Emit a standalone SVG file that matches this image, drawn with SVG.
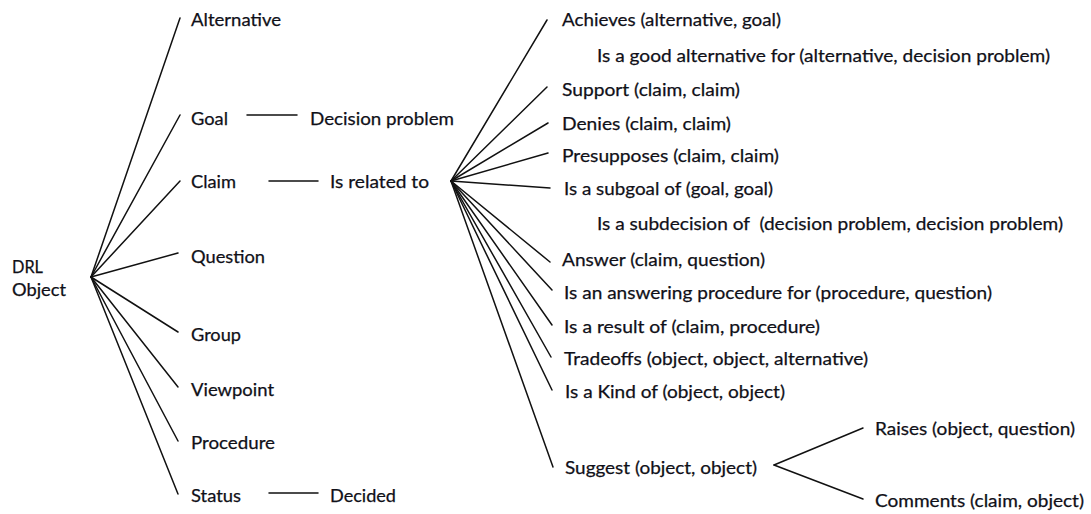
<svg xmlns="http://www.w3.org/2000/svg" width="1091" height="514" viewBox="0 0 1091 514">
  <style>
    text { font-family: Lato, "Liberation Sans", sans-serif; font-size: 18px; fill: #101018; stroke: #101018; stroke-width: 0.25; }
    .edge { stroke: #111; stroke-width: 1.5; fill: none; stroke-linecap: round; }
  </style>
  <rect width="1091" height="514" fill="#fff"/>

  <!-- connectors -->
  <g id="connectors">
    <!-- DRL Object fan -->
    <line class="edge" x1="91" y1="277" x2="180" y2="18"/>
    <line class="edge" x1="91" y1="277" x2="180" y2="115"/>
    <line class="edge" x1="91" y1="277" x2="180" y2="181"/>
    <line class="edge" x1="91" y1="277" x2="178" y2="253"/>
    <line class="edge" x1="91" y1="277" x2="178" y2="332"/>
    <line class="edge" x1="91" y1="277" x2="178" y2="387"/>
    <line class="edge" x1="91" y1="277" x2="178" y2="441"/>
    <line class="edge" x1="91" y1="277" x2="178" y2="494"/>
    <!-- short links -->
    <line class="edge" x1="247" y1="115" x2="297" y2="115"/>
    <line class="edge" x1="269" y1="181" x2="318" y2="181"/>
    <line class="edge" x1="269" y1="493" x2="318" y2="493"/>
    <!-- Is related to fan -->
    <line class="edge" x1="451" y1="181" x2="547" y2="20"/>
    <line class="edge" x1="451" y1="181" x2="547" y2="87"/>
    <line class="edge" x1="451" y1="181" x2="548" y2="123"/>
    <line class="edge" x1="451" y1="181" x2="548" y2="153"/>
    <line class="edge" x1="451" y1="181" x2="550" y2="188"/>
    <line class="edge" x1="451" y1="181" x2="550" y2="262"/>
    <line class="edge" x1="451" y1="181" x2="552" y2="290"/>
    <line class="edge" x1="451" y1="181" x2="552" y2="325"/>
    <line class="edge" x1="451" y1="181" x2="551" y2="357"/>
    <line class="edge" x1="451" y1="181" x2="552" y2="390"/>
    <line class="edge" x1="451" y1="181" x2="553" y2="467"/>
    <!-- Suggest fork -->
    <line class="edge" x1="774" y1="465" x2="863" y2="428"/>
    <line class="edge" x1="774" y1="465" x2="863" y2="499"/>
  </g>

  <!-- nodes -->
  <g id="drl-object"><text x="12" y="273" textLength="31" lengthAdjust="spacingAndGlyphs">DRL</text><text x="12" y="296" textLength="54" lengthAdjust="spacingAndGlyphs">Object</text></g>
  <g id="alternative"><text x="191" y="26" textLength="90" lengthAdjust="spacingAndGlyphs">Alternative</text></g>
  <g id="goal"><text x="191" y="125" textLength="37" lengthAdjust="spacingAndGlyphs">Goal</text></g>
  <g id="decision-problem"><text x="310" y="125" textLength="144" lengthAdjust="spacingAndGlyphs">Decision problem</text></g>
  <g id="claim"><text x="191" y="188" textLength="45" lengthAdjust="spacingAndGlyphs">Claim</text></g>
  <g id="is-related-to"><text x="330" y="188" textLength="99" lengthAdjust="spacingAndGlyphs">Is related to</text></g>
  <g id="question"><text x="191" y="263" textLength="74" lengthAdjust="spacingAndGlyphs">Question</text></g>
  <g id="group"><text x="191" y="341" textLength="50" lengthAdjust="spacingAndGlyphs">Group</text></g>
  <g id="viewpoint"><text x="191" y="396" textLength="83" lengthAdjust="spacingAndGlyphs">Viewpoint</text></g>
  <g id="procedure"><text x="191" y="449" textLength="84" lengthAdjust="spacingAndGlyphs">Procedure</text></g>
  <g id="status"><text x="191" y="502" textLength="50" lengthAdjust="spacingAndGlyphs">Status</text></g>
  <g id="decided"><text x="330" y="502" textLength="66" lengthAdjust="spacingAndGlyphs">Decided</text></g>

  <g id="achieves"><text x="562" y="26" textLength="219" lengthAdjust="spacingAndGlyphs">Achieves (alternative, goal)</text></g>
  <g id="good-alternative"><text x="597" y="62" textLength="453" lengthAdjust="spacingAndGlyphs">Is a good alternative for (alternative, decision problem)</text></g>
  <g id="support"><text x="562" y="96" textLength="178" lengthAdjust="spacingAndGlyphs">Support (claim, claim)</text></g>
  <g id="denies"><text x="562" y="130" textLength="169" lengthAdjust="spacingAndGlyphs">Denies (claim, claim)</text></g>
  <g id="presupposes"><text x="562" y="162" textLength="217" lengthAdjust="spacingAndGlyphs">Presupposes (claim, claim)</text></g>
  <g id="subgoal"><text x="564" y="195" textLength="209" lengthAdjust="spacingAndGlyphs">Is a subgoal of (goal, goal)</text></g>
  <g id="subdecision"><text x="597" y="230" textLength="466" lengthAdjust="spacingAndGlyphs" xml:space="preserve">Is a subdecision of  (decision problem, decision problem)</text></g>
  <g id="answer"><text x="562" y="266" textLength="203" lengthAdjust="spacingAndGlyphs">Answer (claim, question)</text></g>
  <g id="answering-procedure"><text x="564" y="299" textLength="428" lengthAdjust="spacingAndGlyphs">Is an answering procedure for (procedure, question)</text></g>
  <g id="result-of"><text x="564" y="333" textLength="256" lengthAdjust="spacingAndGlyphs">Is a result of (claim, procedure)</text></g>
  <g id="tradeoffs"><text x="564" y="365" textLength="304" lengthAdjust="spacingAndGlyphs">Tradeoffs (object, object, alternative)</text></g>
  <g id="kind-of"><text x="565" y="398" textLength="220" lengthAdjust="spacingAndGlyphs">Is a Kind of (object, object)</text></g>
  <g id="suggest"><text x="565" y="474" textLength="192" lengthAdjust="spacingAndGlyphs">Suggest (object, object)</text></g>
  <g id="raises"><text x="875" y="435" textLength="200" lengthAdjust="spacingAndGlyphs">Raises (object, question)</text></g>
  <g id="comments"><text x="875" y="507" textLength="209" lengthAdjust="spacingAndGlyphs">Comments (claim, object)</text></g>
</svg>
